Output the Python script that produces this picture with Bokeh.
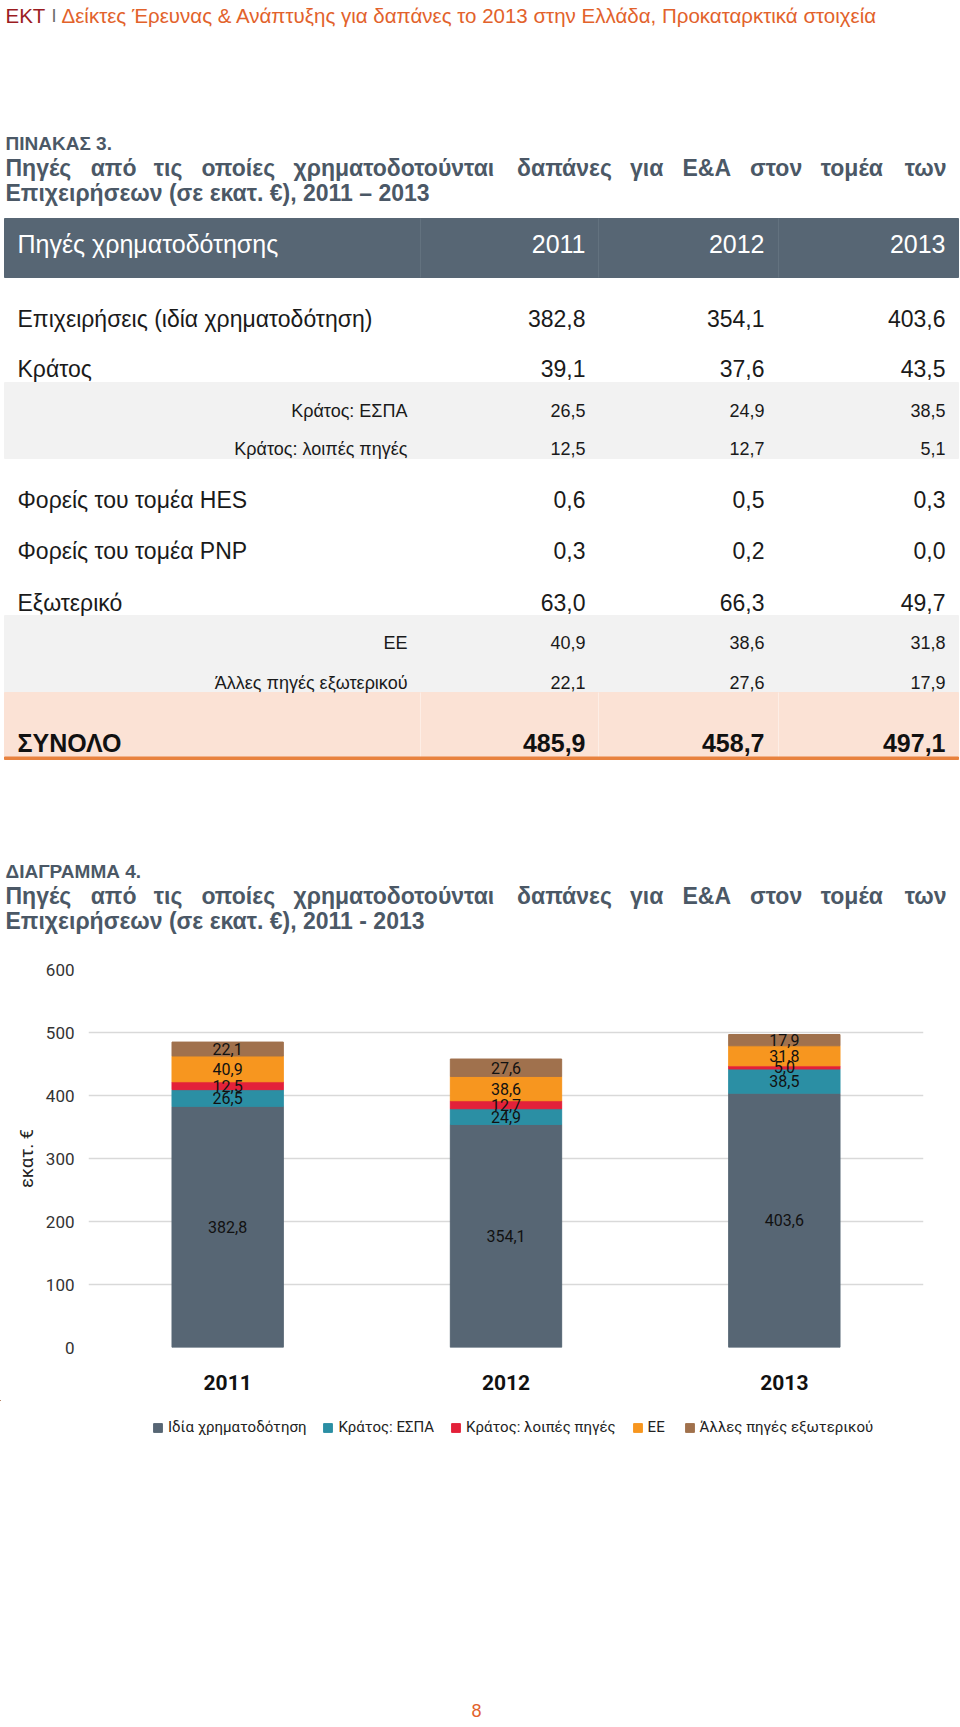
from bokeh.plotting import figure
from bokeh.models import Range1d, FactorRange, ColumnDataSource, Legend, LegendItem, FixedTicker
from bokeh.layouts import column, row
from bokeh.core.properties import value
from bokeh.embed import file_html
from bokeh.resources import INLINE

# ---------------- data ----------------
years = ["2011", "2012", "2013"]

row_labels = ["Επιχειρήσεις (ιδία χρηματοδότηση)", "Κράτος", "Κράτος: ΕΣΠΑ",
              "Κράτος: λοιπές πηγές", "Φορείς του τομέα HES", "Φορείς του τομέα PNP",
              "Εξωτερικό", "ΕΕ", "Άλλες πηγές εξωτερικού"]
v2011 = [382.8, 39.1, 26.5, 12.5, 0.6, 0.3, 63.0, 40.9, 22.1]
v2012 = [354.1, 37.6, 24.9, 12.7, 0.5, 0.2, 66.3, 38.6, 27.6]
v2013 = [403.6, 43.5, 38.5, 5.1, 0.3, 0.0, 49.7, 31.8, 17.9]
totals = [485.9, 458.7, 497.1]

series_names = ["Ιδία χρηματοδότηση", "Κράτος: ΕΣΠΑ", "Κράτος: λοιπές πηγές", "ΕΕ",
                "Άλλες πηγές εξωτερικού"]
own = [382.8, 354.1, 403.6]
espa = [26.5, 24.9, 38.5]
state_other = [12.5, 12.7, 5.0]
eu = [40.9, 38.6, 31.8]
abroad_other = [22.1, 27.6, 17.9]

y_ticks = [0, 100, 200, 300, 400, 500, 600]

# ---------------- styles ----------------
SLATE = "#576674"
TITLE_C = "#4b5866"
ORANGE_T = "#e2622b"
colors = ["#576674", "#2b8fa4", "#e3213a", "#f7961f", "#a0714d"]
ARIAL = "Liberation Sans"
CHART_FONT = "Roboto"
W = 960

# approximate bold-Arial advance widths (em) used to justify the title line
BW = {"Π": .722, "η": .61, "γ": .56, "έ": .49, "ς": .50, "α": .62, "π": .69, "ό": .61,
      "τ": .47, "ι": .28, "ο": .61, "ί": .28, "ε": .49, "χ": .56, "ρ": .61,
      "μ": .61, "δ": .61, "ύ": .58, "ν": .56, "ά": .62, "Ε": .667, "&": .722, "Α": .722,
      "σ": .61, "ω": .82}


def fmt(v):
    return f"{v:.1f}".replace(".", ",")


def txt(p, x, y, s, size, color, align="left", bold=False, font=ARIAL):
    p.text(x=[x], y=[y], text=[s], text_font=value(font), text_font_size=f"{size}px",
           text_color=color, text_align=align, text_baseline="middle",
           text_font_style="bold" if bold else "normal")


def blank(y0, y1):
    p = figure(width=W, height=y1 - y0, x_range=Range1d(0, W), y_range=Range1d(y1, y0),
               output_backend="svg", toolbar_location=None, min_border=0,
               x_axis_type=None, y_axis_type=None)
    p.outline_line_color = None
    p.background_fill_color = "white"
    p.border_fill_color = "white"
    return p


# ---------------- top: header + table ----------------
top = blank(0, 940)

txt(top, 5, 15, "ΕΚΤ", 20.5, "#9b1c1f")
txt(top, 51, 15, "I", 18, "#6a6a6a")
txt(top, 61, 15, "Δείκτες Έρευνας & Ανάπτυξης για δαπάνες το 2013 στην Ελλάδα, Προκαταρκτικά στοιχεία",
    20.5, ORANGE_T)


def title_block(p, label, y0, last):
    size = 23
    txt(p, 5, y0, label, 19, TITLE_C, bold=True)
    words = ["Πηγές", "από", "τις", "οποίες", "χρηματοδοτούνται", "δαπάνες", "για", "Ε&Α",
             "στον", "τομέα", "των"]
    widths = [sum(BW.get(ch, .6) for ch in w) * size for w in words]
    left, right = 5, 946
    gap = (right - left - sum(widths)) / (len(words) - 1)
    x = left
    for w, wd in zip(words[:-1], widths[:-1]):
        txt(p, x, y0 + 24, w, size, TITLE_C, bold=True)
        x += wd + gap
    txt(p, right, y0 + 24, words[-1], size, TITLE_C, align="right", bold=True)
    txt(p, 5, y0 + 49, "Επιχειρήσεων (σε εκατ. €), 2011 " + last + " 2013", size, TITLE_C,
        bold=True)


title_block(top, "ΠΙΝΑΚΑΣ 3.", 143, "–")

# table header bar
L, R = 4, 958
top.quad(left=L, right=R, top=218, bottom=277, color=SLATE)
top.segment(x0=[420, 598, 778], y0=[218] * 3, x1=[420, 598, 778], y1=[277] * 3,
            line_color="#63727f", line_width=1)
col_right = [585, 764, 945]
txt(top, 17, 243, "Πηγές χρηματοδότησης", 25, "white")
for x, yv in zip(col_right, years):
    txt(top, x, 243, yv, 25, "white", align="right")

# bands
top.quad(left=L, right=R, top=382, bottom=458, color="#f2f2f2")
top.quad(left=L, right=R, top=615, bottom=692, color="#f2f2f2")
top.quad(left=L, right=R, top=692, bottom=757, color="#fbe2d5")
top.segment(x0=[420, 598, 778], y0=[692] * 3, x1=[420, 598, 778], y1=[757] * 3,
            line_color="#fdeee6", line_width=1)
top.quad(left=L, right=R, top=756.5, bottom=759, color="#e8823e")

row_y = [318, 368, 410, 448, 499, 550, 602, 642, 682]
is_sub = [False, False, True, True, False, False, False, True, True]
for lab, y, sub, a, b, c in zip(row_labels, row_y, is_sub, v2011, v2012, v2013):
    if sub:
        txt(top, 407, y, lab, 18, "#1a1a1a", align="right")
        size = 18
    else:
        txt(top, 17, y, lab, 23, "#1a1a1a")
        size = 23
    for x, v in zip(col_right, [a, b, c]):
        txt(top, x, y, fmt(v), size, "#1a1a1a", align="right")

txt(top, 17, 742, "ΣΥΝΟΛΟ", 25, "#111111", bold=True)
for x, v in zip(col_right, totals):
    txt(top, x, 742, fmt(v), 25, "#111111", align="right", bold=True)

title_block(top, "ΔΙΑΓΡΑΜΜΑ 4.", 871, "-")

# ---------------- chart ----------------
ch = figure(width=W, height=460, x_range=FactorRange(*years), y_range=Range1d(0, 600),
            output_backend="svg", toolbar_location=None,
            min_border_left=88, min_border_right=37, min_border_top=29, min_border_bottom=53)
ch.outline_line_color = None
ch.background_fill_color = "white"
ch.border_fill_color = "white"

keys = ["own", "espa", "state_other", "eu", "abroad_other"]
src = ColumnDataSource(dict(year=years, own=own, espa=espa, state_other=state_other,
                            eu=eu, abroad_other=abroad_other))
rends = ch.vbar_stack(keys, x="year", width=0.4, color=colors, source=src)

# data labels at segment centres
lx, ly, lt = [], [], []
series = [own, espa, state_other, eu, abroad_other]
for i, yv in enumerate(years):
    base = 0.0
    for s in series:
        lx.append(yv)
        ly.append(base + s[i] / 2)
        lt.append(fmt(s[i]))
        base += s[i]
ch.text(x=lx, y=ly, text=lt, text_font=value(CHART_FONT), text_font_size="16px",
        text_color="#111111", text_align="center", text_baseline="middle")

ch.yaxis.ticker = FixedTicker(ticks=y_ticks)
ch.ygrid.grid_line_color = "#d9d9d9"
ch.ygrid.grid_line_width = 1.5
ch.xgrid.grid_line_color = None
for ax in (ch.xaxis, ch.yaxis):
    ax.axis_line_color = None
    ax.major_tick_line_color = None
    ax.minor_tick_line_color = None
ch.yaxis.major_label_text_font = CHART_FONT
ch.yaxis.major_label_text_font_size = "17px"
ch.yaxis.major_label_text_color = "#333333"
ch.yaxis.major_label_standoff = 8
ch.yaxis.axis_label = "εκατ. €"
ch.yaxis.axis_label_text_font = CHART_FONT
ch.yaxis.axis_label_text_font_style = "normal"
ch.yaxis.axis_label_text_font_size = "18px"
ch.yaxis.axis_label_text_color = "#222222"
ch.yaxis.axis_label_standoff = 6
ch.xaxis.major_label_text_font = CHART_FONT
ch.xaxis.major_label_text_font_size = "21px"
ch.xaxis.major_label_text_font_style = "bold"
ch.xaxis.major_label_text_color = "#111111"
ch.xaxis.major_label_standoff = 21

# ---------------- bottom: legend + page number ----------------
bot = blank(1400, 1727)
# zero-size swatch renderers (outside the visible range) that only feed the legend
legend_rends = [bot.vbar(x=[-50], bottom=[0], top=[0], width=0, color=c) for c in colors]
legend = Legend(items=[LegendItem(label=n, renderers=[r]) for n, r in zip(series_names, legend_rends)],
                orientation="horizontal", location=(152, 291), glyph_width=11, glyph_height=11,
                label_text_font=CHART_FONT, label_text_font_size="15px",
                label_text_color="#222222", spacing=16, label_standoff=5, padding=0,
                margin=0, border_line_color=None, background_fill_alpha=0)
bot.add_layout(legend, "center")
txt(bot, 476, 1710, "8", 18, ORANGE_T, align="center")

layout = column(top, row(ch), bot, spacing=0)
open("out.html", "w").write(file_html(layout, INLINE))
